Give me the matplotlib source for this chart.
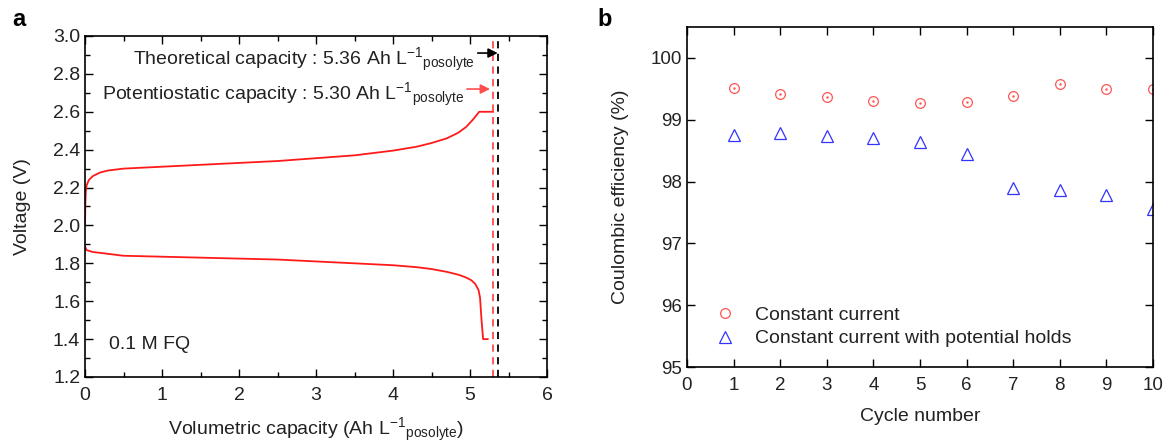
import matplotlib
matplotlib.use("Agg")
import matplotlib.pyplot as plt
import numpy as np
from matplotlib.ticker import MultipleLocator
from matplotlib.lines import Line2D

plt.rcParams['font.family'] = ['Liberation Sans', 'DejaVu Sans']
plt.rcParams['mathtext.fontset'] = 'custom'
plt.rcParams['mathtext.rm'] = 'Liberation Sans'
plt.rcParams['mathtext.it'] = 'Liberation Sans:italic'
plt.rcParams['mathtext.bf'] = 'Liberation Sans:bold'
plt.rcParams['font.size'] = 14

# Panel a data
charge_cap = [0.0, 0.005, 0.01, 0.02, 0.05, 0.1, 0.2, 0.3, 0.5, 1.0, 1.5, 2.0, 2.5, 3.0, 3.5, 4.0, 4.3, 4.5, 4.7, 4.85, 4.95, 5.03, 5.08, 5.12, 5.30]
charge_v = [2.00, 2.12, 2.18, 2.21, 2.24, 2.26, 2.28, 2.29, 2.30, 2.31, 2.32, 2.33, 2.34, 2.355, 2.37, 2.395, 2.415, 2.435, 2.46, 2.49, 2.52, 2.555, 2.58, 2.60, 2.60]
dis_cap = [0.0, 0.02, 0.1, 0.3, 0.5, 1.0, 1.5, 2.0, 2.5, 3.0, 3.5, 4.0, 4.3, 4.5, 4.7, 4.85, 4.95, 5.02, 5.07, 5.11, 5.13, 5.15, 5.17, 5.23]
dis_v = [1.89, 1.87, 1.86, 1.85, 1.84, 1.835, 1.83, 1.825, 1.82, 1.81, 1.80, 1.79, 1.78, 1.77, 1.755, 1.74, 1.725, 1.71, 1.69, 1.66, 1.62, 1.50, 1.40, 1.40]
theoretical_cap = 5.36
potentiostatic_cap = 5.30

# Panel b data
cycles = [1, 2, 3, 4, 5, 6, 7, 8, 9, 10]
ce_cc = [99.51, 99.41, 99.36, 99.30, 99.27, 99.28, 99.38, 99.57, 99.49, 99.50]
ce_hold = [98.75, 98.78, 98.73, 98.70, 98.64, 98.45, 97.90, 97.86, 97.79, 97.55]

W, H = 1166, 442
fig = plt.figure(figsize=(W/100, H/100), dpi=100)

def box(l, t, r, b):
    return [l/W, 1-b/H, (r-l)/W, (b-t)/H]

txtc = '#222222'

ax1 = fig.add_axes(box(85, 36, 547, 377))
ax1.plot(charge_cap, charge_v, color='#ff1a1a', lw=1.3)
ax1.plot(dis_cap, dis_v, color='#ff1a1a', lw=1.3)
ax1.axvline(potentiostatic_cap, color='#ff4d4d', ls=(0, (4, 3)), lw=1.3)
ax1.axvline(theoretical_cap, color='black', ls=(0, (4, 3)), lw=1.3)
ax1.set_xlim(0, 6)
ax1.set_ylim(1.2, 3.0)
ax1.xaxis.set_major_locator(MultipleLocator(1))
ax1.xaxis.set_minor_locator(MultipleLocator(0.5))
ax1.yaxis.set_major_locator(MultipleLocator(0.2))
ax1.yaxis.set_minor_locator(MultipleLocator(0.1))
ax1.yaxis.set_major_formatter(matplotlib.ticker.FormatStrFormatter('%.1f'))
ax1.set_xlabel('Volumetric capacity (Ah L$^{-1}$$_{\\mathregular{posolyte}}$)', color=txtc, labelpad=9)
ax1.set_ylabel('Voltage (V)', color=txtc, labelpad=16)
ax1.annotate('', xy=(theoretical_cap, 2.91), xytext=(5.10, 2.91),
             arrowprops=dict(arrowstyle='-|>', color='black', lw=1.2, mutation_scale=14, shrinkA=0, shrinkB=0))
ax1.annotate('', xy=(potentiostatic_cap - 0.04, 2.72), xytext=(4.96, 2.72),
             arrowprops=dict(arrowstyle='-|>', color='#ff4d4d', lw=1.2, mutation_scale=14, shrinkA=0, shrinkB=0))
ax1.text(5.06, 2.875, 'Theoretical capacity : 5.36 Ah L$^{-1}$$_{\\mathregular{posolyte}}$',
         ha='right', va='center', color=txtc, fontsize=14)
ax1.text(4.93, 2.69, 'Potentiostatic capacity : 5.30 Ah L$^{-1}$$_{\\mathregular{posolyte}}$',
         ha='right', va='center', color=txtc, fontsize=14)
ax1.text(0.31, 1.37, '0.1 M FQ', ha='left', va='center', color=txtc, fontsize=14)

ax2 = fig.add_axes(box(687, 27, 1153, 367))
ax2.plot(cycles, ce_cc, ls='none', marker='o', ms=7, mfc='none', mec='#ff5555', mew=0.9)
ax2.plot(cycles, ce_cc, ls='none', marker='.', ms=1.5, color='#ff5555')
ax2.plot(cycles, ce_hold, ls='none', marker='^', ms=8.5, mfc='none', mec='#3333ff', mew=0.9)
ax2.set_xlim(0, 10)
ax2.set_ylim(95, 100.5)
ax2.xaxis.set_major_locator(MultipleLocator(1))
ax2.yaxis.set_major_locator(MultipleLocator(1))
ax2.set_xlabel('Cycle number', color=txtc, labelpad=10)
ax2.set_ylabel('Coulombic efficiency (%)', color=txtc, labelpad=16)

h1 = Line2D([], [], ls='none', marker='o', ms=7, mfc='none', mec='#ff5555', mew=0.9)
h2 = Line2D([], [], ls='none', marker='^', ms=8.5, mfc='none', mec='#3333ff', mew=0.9)
ax2.legend([h1, h2], ['Constant current', 'Constant current with potential holds'],
           loc='lower left', bbox_to_anchor=(0.04, 0.035), frameon=False, fontsize=14,
           handletextpad=0.95, handlelength=1.2, labelspacing=0.3, labelcolor=txtc,
           borderaxespad=0)

for ax in (ax1, ax2):
    ax.tick_params(which='both', direction='in', top=True, right=True, colors='black', labelcolor=txtc)
    ax.tick_params(which='major', length=6, width=1)
    ax.tick_params(which='minor', length=3.5, width=1)
    for s in ax.spines.values():
        s.set_linewidth(1.2)
    ax.tick_params(axis='x', pad=7)
ax1.tick_params(labelsize=14)
ax2.tick_params(labelsize=13.5)

fig.text(12/W, 1-20/H, 'a', fontsize=17, fontweight='bold', va='center', ha='left')
fig.text(597/W, 1-20/H, 'b', fontsize=17, fontweight='bold', va='center', ha='left')

fig.savefig('out.png', dpi=100)
